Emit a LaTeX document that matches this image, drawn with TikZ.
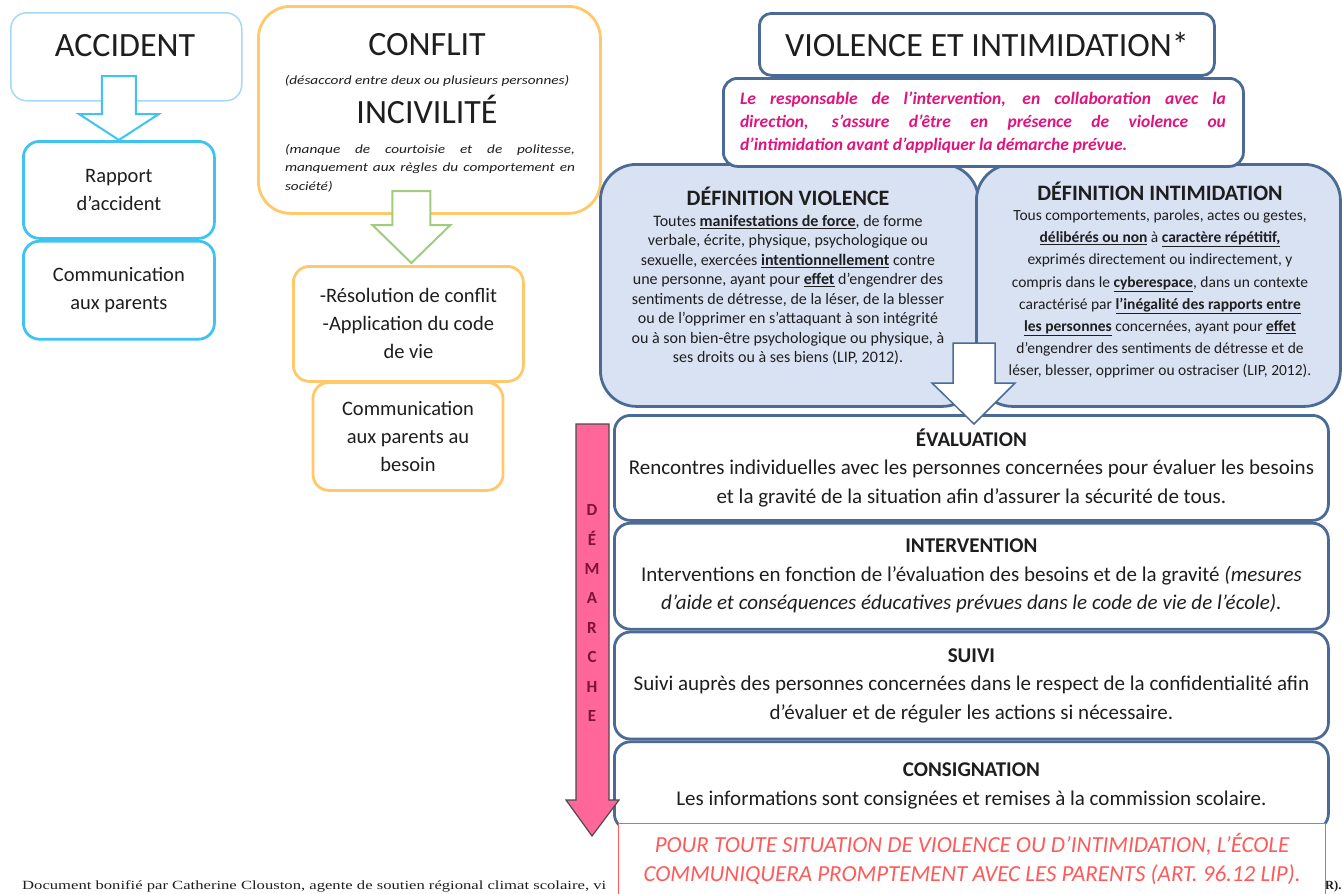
\documentclass[tikz,border=0pt]{standalone}
\usepackage{fontspec}
\setmainfont{Carlito}
\newfontfamily\etire{Carlito}[FakeStretch=1.22]
\newfontfamily\pied{Liberation Serif}[FakeStretch=1.33]
\newfontfamily\piedfin{Liberation Serif}
\usetikzlibrary{positioning,calc}

\definecolor{ciel}{HTML}{A3DAF6}
\definecolor{cyanvif}{HTML}{3FC4F1}
\definecolor{jaune}{HTML}{FFC96B}
\definecolor{vert}{HTML}{9FCD7E}
\definecolor{marine}{HTML}{4B6B96}
\definecolor{bleupale}{HTML}{D9E2F3}
\definecolor{fuchsia}{HTML}{E0147E}
\definecolor{rose}{HTML}{FF6699}
\definecolor{bordeaux}{HTML}{7A1535}
\definecolor{rouge}{HTML}{FF5A5A}
\definecolor{texte}{HTML}{1E1E1E}

\newcommand{\motcle}[1]{\underline{\textbf{#1}}}

\begin{document}
\begin{tikzpicture}[x=1pt,y=-1pt,every node/.style={text=texte},
    boite/.style={draw,line width=2.8pt,rounded corners=16pt,fill=white,align=center,inner sep=0pt},
    bleu/.style={boite,draw=cyanvif},
    orange/.style={boite,draw=jaune},
    marin/.style={boite,draw=marine},
    gros/.style={font=\fontsize{34}{40}\selectfont},
    corps/.style={font=\fontsize{20.5}{28}\selectfont},
    demarche/.style={font=\fontsize{21}{28.5}\selectfont},
    petit/.style={font=\etire\fontsize{12.5}{18.5}\selectfont\itshape},
    fleche/.style={line width=2pt,fill=white,line join=miter}]

    \useasboundingbox (0,0) rectangle (1342,894);

    % accident
    \node[boite,draw=ciel,line width=1.5pt,minimum width=231,minimum height=88,anchor=north west] (acc) at (10,12) {};
    \node[gros] (acct) at (125,46) {ACCIDENT};
    \node[bleu,minimum width=191,minimum height=97,anchor=north west,corps] (rap) at (22,140) {Rapport\\d’accident};
    \node[bleu,minimum width=191,minimum height=98,below=0pt of rap,corps] (com) {Communication\\aux parents};
    \draw[fleche,draw=cyanvif] ($(rap.north)+(-17,-64)$) -- ($(rap.north)+(17,-64)$) -- ($(rap.north)+(17,-26)$)
        -- ($(rap.north)+(40,-26)$) -- (rap.north) -- ($(rap.north)+(-40,-26)$) -- ($(rap.north)+(-17,-26)$) -- cycle;

    % conflit / incivilite
    \node[orange,rounded corners=32pt,minimum width=342,minimum height=207,anchor=north west] (conf) at (257,5) {};
    \node[gros] (conft) at (427,45) {CONFLIT};
    \node[petit] (paren) at (427,81) {(désaccord entre deux ou plusieurs personnes)};
    \node[gros] (incit) at (427,109) {INCIVILITÉ};
    \node[petit,align=left] (manq) at (430,168) {\makebox[290pt][s]{(manque de courtoisie et de politesse,}\\
        \makebox[290pt][s]{manquement aux règles du comportement en}\\société)};
    \node[orange,minimum width=230,minimum height=115,anchor=north west,corps] (res) at (292,265)
        {-Résolution de conflit\\-Application du code\\de vie};
    \node[orange,minimum width=190,minimum height=108,anchor=north,corps] (com2) at (408,381)
        {Communication\\aux parents au\\besoin};
    \draw[fleche,draw=vert] ($(res.north)+(-16,-74)$) -- ($(res.north)+(22,-74)$) -- ($(res.north)+(22,-40)$)
        -- ($(res.north)+(42,-40)$) -- ($(res.north)+(3,-2)$) -- ($(res.north)+(-36,-40)$) -- ($(res.north)+(-16,-40)$) -- cycle;

    % violence et intimidation
    \node[marin,fill=bleupale,rounded corners=36pt,minimum width=378,minimum height=242,anchor=north west] (defv) at (599,163) {};
    \node[marin,fill=bleupale,rounded corners=36pt,minimum width=364,minimum height=242,anchor=north west] (defi) at (975,163) {};
    \node[font=\fontsize{22}{26}\selectfont\bfseries] (defvt) at (788,196) {DÉFINITION VIOLENCE};
    \node[font=\fontsize{16}{19.5}\selectfont,align=center] (defvc) at (788,290) {Toutes \motcle{manifestations de force}, de forme\\
        verbale, écrite, physique, psychologique ou\\
        sexuelle, exercées \motcle{intentionnellement} contre\\
        une personne, ayant pour \motcle{effet} d’engendrer des\\
        sentiments de détresse, de la léser, de la blesser\\
        ou de l’opprimer en s’attaquant à son intégrité\\
        ou à son bien-être psychologique ou physique, à\\
        ses droits ou à ses biens (LIP, 2012).};
    \node[font=\fontsize{22}{26}\selectfont\bfseries] (defit) at (1160,191) {DÉFINITION INTIMIDATION};
    \node[font=\fontsize{15.5}{22.2}\selectfont,align=center] (defic) at (1160,294) {Tous comportements, paroles, actes ou gestes,\\
        \motcle{délibérés ou non} à \motcle{caractère répétitif,}\\
        exprimés directement ou indirectement, y\\
        compris dans le \motcle{cyberespace}, dans un contexte\\
        caractérisé par \motcle{l’inégalité des rapports entre}\\
        \motcle{les personnes} concernées, ayant pour \motcle{effet}\\
        d’engendrer des sentiments de détresse et de\\
        léser, blesser, opprimer ou ostraciser (LIP, 2012).};
    \node[marin,rounded corners=14pt,minimum width=520,minimum height=88,anchor=north west] (resp) at (722,77) {};
    \node[text=fuchsia,font=\fontsize{17.5}{23}\selectfont\bfseries\itshape,align=left] (respt) at (983,123)
        {\makebox[486pt][s]{Le responsable de l’intervention, en collaboration avec la}\\
        \makebox[486pt][s]{direction, s’assure d’être en présence de violence ou}\\
        d’intimidation avant d’appliquer la démarche prévue.};
    \node[marin,rounded corners=12pt,minimum width=455,minimum height=62,anchor=north west,gros] (viol) at (758,12)
        {VIOLENCE ET INTIMIDATION*};

    % demarche
    \node[marin,minimum width=714,minimum height=105,anchor=north west,demarche] (eval) at (613,414)
        {\textbf{ÉVALUATION}\\Rencontres individuelles avec les personnes concernées pour évaluer les besoins\\
        et la gravité de la situation afin d’assurer la sécurité de tous.};
    \node[marin,minimum width=714,minimum height=106,below=0pt of eval,demarche] (interv)
        {\textbf{INTERVENTION}\\Interventions en fonction de l’évaluation des besoins et de la gravité \textit{(mesures}\\
        \textit{d’aide et conséquences éducatives prévues dans le code de vie de l’école).}};
    \node[marin,minimum width=714,minimum height=107,below=0pt of interv,demarche] (suivi)
        {\textbf{SUIVI}\\Suivi auprès des personnes concernées dans le respect de la confidentialité afin\\
        d’évaluer et de réguler les actions si nécessaire.};
    \node[marin,minimum width=714,minimum height=88,below=0pt of suivi,demarche] (consi)
        {\textbf{CONSIGNATION}\\Les informations sont consignées et remises à la commission scolaire.};

    \coordinate (pv) at (974,424);
    \draw[fleche,draw=marine,line width=1.5pt] ($(pv)+(-21,-81)$) -- ($(pv)+(21,-81)$) -- ($(pv)+(21,-41)$)
        -- ($(pv)+(41,-41)$) -- (pv) -- ($(pv)+(-42,-41)$) -- ($(pv)+(-21,-41)$) -- cycle;

    \coordinate (pd) at (592,836);
    \draw[fill=rose,draw=black!70,line width=1.2pt] ($(pd)+(-16,-412)$) -- ($(pd)+(17,-412)$) -- ($(pd)+(17,-36)$)
        -- ($(pd)+(27,-36)$) -- (pd) -- ($(pd)+(-26,-36)$) -- ($(pd)+(-16,-36)$) -- cycle;
    \node[text=bordeaux,font=\fontsize{17}{29.4}\selectfont\bfseries,align=center] (dem) at (592,613) {D\\É\\M\\A\\R\\C\\H\\E};

    % bas de page
    \node[anchor=base west,inner sep=0pt,font=\pied\fontsize{12.5}{14}\selectfont] (pied1) at (22,889)
        {Document bonifié par Catherine Clouston, agente de soutien régional climat scolaire, vi};
    \node[anchor=base west,inner sep=0pt,font=\piedfin\bfseries\fontsize{12.5}{14}\selectfont] (pied2) at (1325,889) {R).};
    \node[draw=rouge,line width=1.2pt,fill=white,minimum width=707,minimum height=71,anchor=north west,
        text=rouge,font=\fontsize{23}{29}\selectfont\itshape,align=center] (lip) at (618,823)
        {POUR TOUTE SITUATION DE VIOLENCE OU D’INTIMIDATION, L’ÉCOLE\\COMMUNIQUERA PROMPTEMENT AVEC LES PARENTS (ART. 96.12 LIP).};
\end{tikzpicture}
\end{document}
